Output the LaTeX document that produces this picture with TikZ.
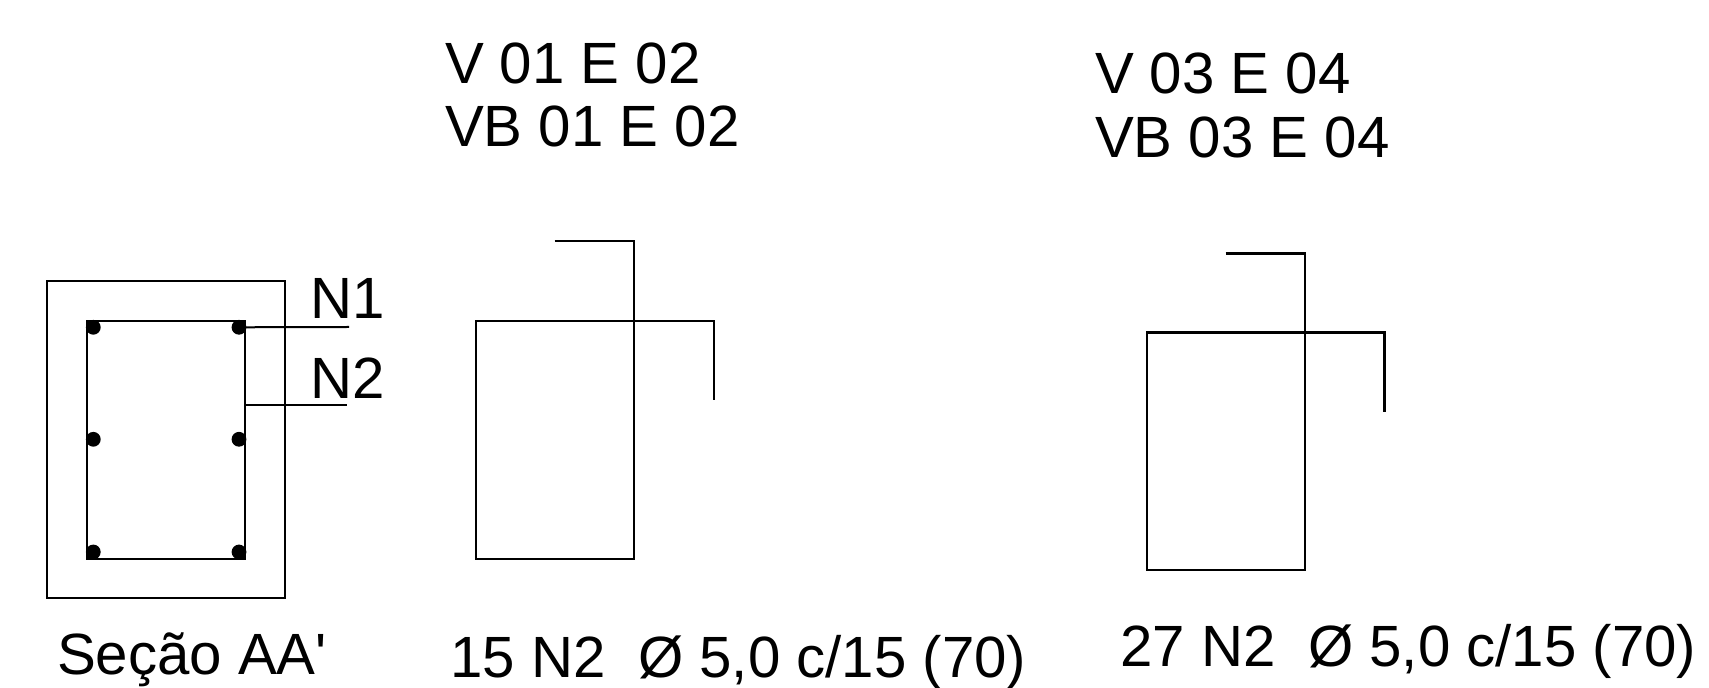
\documentclass[tikz,border=0pt]{standalone}
\usepackage{fontspec}
\newfontfamily\labelfont{Liberation Sans}
\tikzset{
  every picture/.style={x=0.5pt,y=-0.5pt},
  steel/.style={draw=black,line width=1.1pt,line join=miter,line cap=butt},
  thin steel/.style={draw=black,line width=1pt},
  label text/.style={anchor=base west,inner sep=0pt,outer sep=0pt,font=\labelfont\fontsize{29.1}{35}\selectfont,text=black},
  rebar/.style={circle,fill=black,draw=none,minimum size=7.4pt,inner sep=0pt}
}
\begin{document}
\begin{tikzpicture}
\useasboundingbox (0,0) rectangle (1709,688);
\fill[white] (0,0) rectangle (1709,688);

% Section AA'
\draw[steel] (47,281) rectangle (285,598);
\draw[steel] (87,321) rectangle (245,559);
\fill (86.5,320.4) rectangle (94,328);
\fill (239,320.4) rectangle (245.6,328);
\fill (86.5,552) rectangle (94,559.6);
\fill (239,552) rectangle (245.6,559.6);
\node[rebar] (b1) at (93.3,327.3) {};
\node[rebar] (b2) at (239,327.3) {};
\node[rebar] (b3) at (93.3,439.3) {};
\node[rebar] (b4) at (239,439.3) {};
\node[rebar] (b5) at (93.3,552) {};
\node[rebar] (b6) at (239,552) {};
\coordinate (n1end) at (349,327);
\coordinate (n2start) at (245,405.5);
\coordinate (n2end) at (347,405.5);
\draw[thin steel] (b2.center) -- (n1end);
\draw[thin steel] (n2start) -- (n2end);
\node[label text] (n1) at (310.5,319) {N1};
\node[label text] (n2) at (310.5,399) {N2};
\node[label text] (sec) at (57,675) {Seção AA'};

% Stirrup 1
\node[label text] (t1a) at (445,84) {V 01 E 02};
\node[label text] (t1b) at (445,147) {VB 01 E 02};
\draw[steel] (554.7,241) -- (634.3,241) -- (634.3,559) -- (475.7,559) -- (475.7,321) -- (713.7,321) -- (713.7,400);
\node[label text] (t1c) at (450.5,678) {15 N2\ \ Ø 5,0 c/15 (70)};

% Stirrup 2
\node[label text] (t2a) at (1095,94) {V 03 E 04};
\node[label text] (t2b) at (1095,157.3) {VB 03 E 04};
\draw[steel] (1225.7,253.5) -- (1305,253.5) -- (1305,570) -- (1146.7,570) -- (1146.7,332.5) -- (1384.5,332.5) -- (1384.5,412);
\node[label text] (t2c) at (1120.5,667) {27 N2\ \ Ø 5,0 c/15 (70)};
\end{tikzpicture}
\end{document}
